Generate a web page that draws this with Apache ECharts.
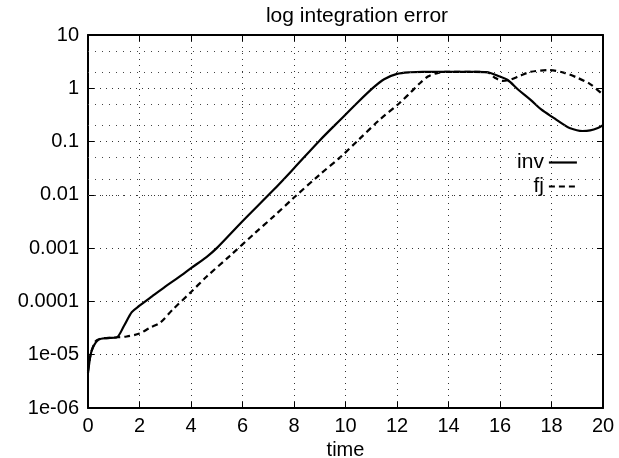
<!DOCTYPE html>
<html>
<head>
<meta charset="utf-8">
<script src="https://cdn.jsdelivr.net/npm/echarts@6/dist/echarts.min.js"></script>
<style>html,body{margin:0;padding:0;background:#fff}#c{width:619px;height:458px}</style>
</head>
<body>
<div id="c"></div>
<script>
// ---- data ----
var invT = [0,0.1,0.2,0.4,0.7,1.1,1.4,1.7,2.0,2.5,3.0,3.5,4.0,4.6,5.0,6.0,7.2,8.0,9.0,9.8,10.5,11.1,11.5,12.0,12.5,13,14,15,15.5,16.0,16.3,16.7,17.2,17.6,18.1,18.4,18.7,19.2,19.5,19.8,20];
var invV = [4.5e-6,1.0e-5,1.4e-5,1.9e-5,2.05e-5,2.1e-5,3.5e-5,6.3e-5,8.3e-5,1.26e-4,1.9e-4,2.8e-4,4.2e-4,6.8e-4,1.0e-3,3.2e-3,0.0123,0.0316,0.105,0.257,0.56,1.05,1.48,1.86,2.0,2.04,2.04,2.04,2.0,1.66,1.43,0.95,0.60,0.40,0.275,0.22,0.18,0.158,0.162,0.18,0.204];
var fjT = [0,0.1,0.3,0.5,1.0,1.5,2.0,2.4,2.8,3.3,4.0,4.6,5.5,6.5,7.2,8.0,9.0,9.8,10.5,11.3,12.1,12.5,12.9,13.2,13.6,14,15,15.5,15.8,16.1,16.4,16.8,17.2,17.9,18.5,19.0,19.5,20];
var fjV = [5e-6,1e-5,1.8e-5,2.0e-5,2.1e-5,2.2e-5,2.5e-5,3.2e-5,4.0e-5,7.1e-5,1.5e-4,2.9e-4,7.1e-4,1.95e-3,3.9e-3,8.9e-3,0.024,0.051,0.107,0.25,0.53,0.81,1.26,1.66,1.95,2.04,2.04,2.0,1.58,1.38,1.45,1.74,2.04,2.19,1.95,1.58,1.2,0.76];
var yTickValues = [1e-6,1e-5,1e-4,1e-3,1e-2,1e-1,1,10];
var yTickLabels = ['1e-06','1e-05','0.0001','0.001','0.01','0.1','1','10'];
var xTickLabels = ['0','2','4','6','8','10','12','14','16','18','20'];
var minorGridValues = [2e-6,5e-6,2e-5,5e-5,2e-4,5e-4,2e-3,5e-3,2e-2,5e-2,0.2,0.5,2,5];
var seriesNames = ['inv','fj'];
var titleText = 'log integration error';
var xName = 'time';

function pairs(t, v){ return t.map(function(x,i){ return [x, v[i]]; }); }
function yLabel(val){
  var k = Math.round(Math.log10(val));
  var i = yTickValues.findIndex(function(tv){ return Math.round(Math.log10(tv)) === k; });
  return i >= 0 ? yTickLabels[i] : '';
}

var font = 'Liberation Sans';
var gridDot = {show:true, lineStyle:{color:'#333', width:1, type:[1,5]}};
var chart = echarts.init(document.getElementById('c'), null, {renderer:'canvas'});
chart.setOption({
  backgroundColor:'#fff',
  animation:false,
  title:{text:titleText, left:352, top:1, textAlign:'center',
    textStyle:{fontFamily:font, fontSize:21, fontWeight:'normal', color:'#000'}},
  legend:{
    orient:'vertical', right:36, top:147, align:'right', itemGap:3,
    itemWidth:28, itemHeight:12, data:seriesNames,
    itemStyle:{opacity:0},
    lineStyle:{width:2.2},
    textStyle:{fontFamily:font, fontSize:21, color:'#000'}
  },
  grid:{left:88, right:16, top:35, bottom:50, containLabel:false, outerBoundsMode:'none'},
  xAxis:[{
    type:'value', min:0, max:20, interval:2,
    name:xName, nameLocation:'middle', nameGap:29,
    nameTextStyle:{fontFamily:font, fontSize:20, color:'#000'},
    axisLine:{show:true, onZero:false, lineStyle:{color:'#000', width:2}},
    axisTick:{show:true, inside:true, length:6, lineStyle:{color:'#000', width:1}},
    axisLabel:{fontFamily:font, fontSize:20, color:'#000', margin:8,
      formatter:function(v){ return xTickLabels[Math.round(v/2)]; }},
    splitLine:gridDot
  },{
    type:'value', min:0, max:20, interval:2, position:'top',
    axisLine:{show:true, onZero:false, lineStyle:{color:'#000', width:2}},
    axisTick:{show:true, inside:true, length:6, lineStyle:{color:'#000', width:1}},
    axisLabel:{show:false}, splitLine:{show:false}
  }],
  yAxis:[{
    type:'log', logBase:10, min:1e-6, max:10, interval:1,
    axisLine:{show:true, onZero:false, lineStyle:{color:'#000', width:2}},
    axisTick:{show:true, inside:true, length:6, lineStyle:{color:'#000', width:1}},
    minorTick:{show:false},
    axisLabel:{fontFamily:font, fontSize:20, color:'#000', margin:9, formatter:yLabel},
    splitLine:gridDot
  },{
    type:'log', logBase:10, min:1e-6, max:10, interval:1, position:'right',
    axisLine:{show:true, onZero:false, lineStyle:{color:'#000', width:2}},
    axisTick:{show:true, inside:true, length:6, lineStyle:{color:'#000', width:1}},
    axisLabel:{show:false}, splitLine:{show:false}
  }],
  series:[{
    name:seriesNames[0], type:'line', data:pairs(invT, invV), smooth:0.3,
    showSymbol:false, symbol:'none', clip:true,
    lineStyle:{color:'#000', width:2.2, type:'solid'},
    itemStyle:{color:'#000'},
    markLine:{silent:true, symbol:['none','none'], label:{show:false},
      lineStyle:{color:'#444', width:1, type:[1,6]},
      data:minorGridValues.map(function(v){ return {yAxis:v}; })}
  },{
    name:seriesNames[1], type:'line', data:pairs(fjT, fjV), smooth:0.3,
    showSymbol:false, symbol:'none', clip:true,
    lineStyle:{color:'#000', width:2.2, type:[6,4]},
    itemStyle:{color:'#000'}
  }]
});
</script>
</body>
</html>
